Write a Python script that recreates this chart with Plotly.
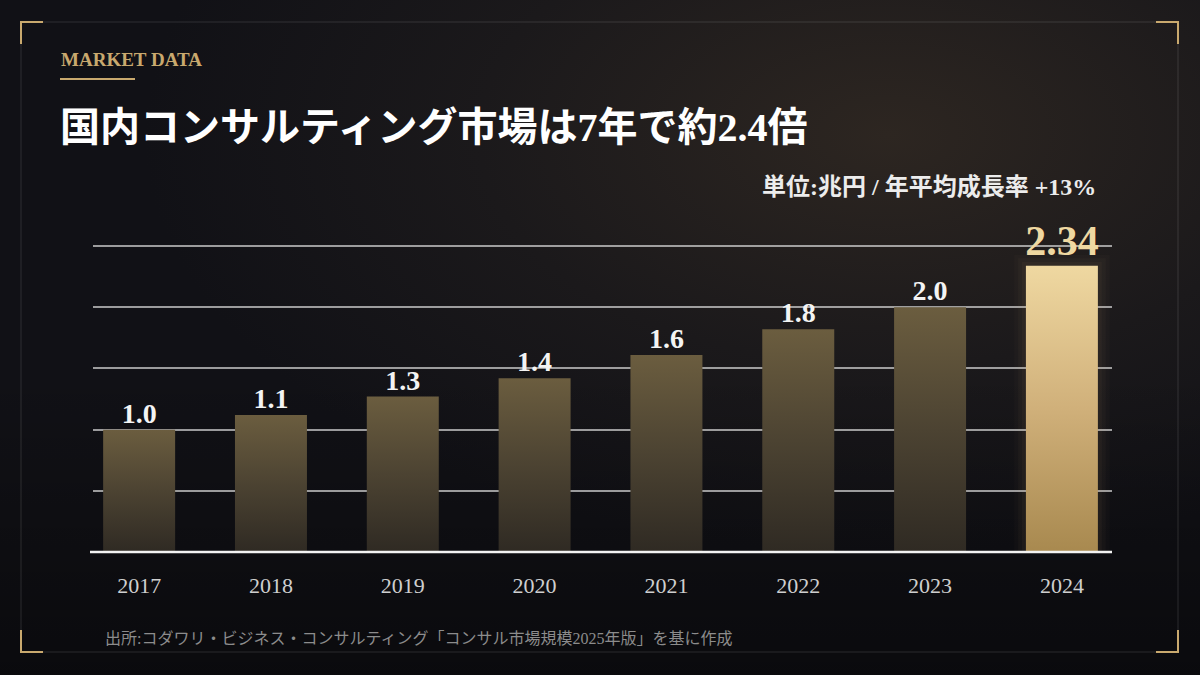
import base64
import numpy as np
import plotly.graph_objects as go

# chart data
years = ["2017", "2018", "2019", "2020", "2021", "2022", "2023", "2024"]
market_size = [1.0, 1.12, 1.27, 1.42, 1.61, 1.82, 2.0, 2.34]
value_labels = ["1.0", "1.1", "1.3", "1.4", "1.6", "1.8", "2.0", "2.34"]
highlight_year = "2024"

title_text = "国内コンサルティング市場は7年で約2.4倍"
kicker_text = "MARKET DATA"
unit_text = "単位:兆円 / 年平均成長率 +13%"
source_text = "出所:コダワリ・ビジネス・コンサルティング「コンサル市場規模2025年版」を基に作成"

W, H = 1200, 675
ML, MR, MT, MB = 93, 88, 240, 123
PW, PH = W - ML - MR, H - MT - MB

SERIF = "Liberation Serif, 'Noto Sans CJK JP', serif"
GOLD = "#c9a96e"
BAR_W = 0.546


def px_x(px):
    return (px - ML) / PW


def px_y(py):
    return (H - MB - py) / PH


bg_svg = """<svg xmlns='http://www.w3.org/2000/svg' width='1200' height='675'>
<defs>
<radialGradient id='g' cx='0.74' cy='0.2' r='0.62'>
<stop offset='0' stop-color='#2d2621'/>
<stop offset='0.55' stop-color='#1b191b'/>
<stop offset='1' stop-color='#111116'/>
</radialGradient>
<linearGradient id='v' x1='0' y1='0' x2='0' y2='1'>
<stop offset='0.55' stop-color='#000' stop-opacity='0'/>
<stop offset='1' stop-color='#000' stop-opacity='0.4'/>
</linearGradient>
</defs>
<rect width='1200' height='675' fill='url(#g)'/>
<rect width='1200' height='675' fill='url(#v)'/>
</svg>"""
bg_uri = "data:image/svg+xml;base64," + base64.b64encode(bg_svg.encode()).decode()

fig = go.Figure()

xpos = np.arange(len(years))
for i, (yr, v) in enumerate(zip(years, market_size)):
    hi = yr == highlight_year
    x0, x1 = xpos[i] - BAR_W / 2, xpos[i] + BAR_W / 2
    if hi:
        # faint glow around the highlighted bar
        for pad, a in [(0.09, 0.025), (0.06, 0.03), (0.03, 0.04)]:
            fig.add_trace(go.Scatter(
                x=[x0 - pad, x0 - pad, x1 + pad, x1 + pad, x0 - pad],
                y=[0, v + pad, v + pad, 0, 0],
                fill="toself", mode="none",
                fillcolor=f"rgba(225,190,120,{a})",
                hoverinfo="skip", showlegend=False,
            ))
        scale = [[0, "#a8894f"], [0.5, "#d0b07a"], [1, "#efd8a1"]]
    else:
        scale = [[0, "#2f2a23"], [0.5, "#4c4332"], [1, "#6b5d3f"]]
    fig.add_trace(go.Scatter(
        x=[x0, x0, x1, x1, x0],
        y=[0, v, v, 0, 0],
        fill="toself", mode="none",
        fillgradient=dict(type="vertical", colorscale=scale),
        name=yr, hovertemplate=f"{yr}: {v}<extra></extra>",
        showlegend=False,
    ))

# value labels
normal = [i for i, y in enumerate(years) if y != highlight_year]
hl = [i for i, y in enumerate(years) if y == highlight_year]
fig.add_trace(go.Scatter(
    x=[xpos[i] for i in normal], y=[market_size[i] for i in normal],
    text=[f"<b>{value_labels[i]}</b>" for i in normal],
    mode="text", textposition="top center",
    textfont=dict(family=SERIF, size=28, color="#f4f4f4"),
    hoverinfo="skip", showlegend=False, cliponaxis=False,
))
fig.add_trace(go.Scatter(
    x=[xpos[i] for i in hl], y=[market_size[i] for i in hl],
    text=[f"<b>{value_labels[i]}</b>" for i in hl],
    mode="text", textposition="top center",
    textfont=dict(family=SERIF, size=42, color="#efd8a1"),
    hoverinfo="skip", showlegend=False, cliponaxis=False,
))

shapes = []
# baseline
shapes.append(dict(type="line", xref="paper", yref="paper",
                   x0=px_x(90), x1=px_x(1112), y0=0, y1=0,
                   line=dict(color="#f2f2f2", width=2.5), layer="above"))
# frame
fx0, fx1, fy0, fy1 = 21, 1178, 22, 652
shapes.append(dict(type="rect", xref="paper", yref="paper",
                   x0=px_x(fx0), x1=px_x(fx1), y0=px_y(fy0), y1=px_y(fy1),
                   line=dict(color="rgba(255,255,255,0.13)", width=1), layer="above"))
c = 22
for cx, cy, dx, dy in [(fx0, fy0, 1, 1), (fx1, fy0, -1, 1), (fx0, fy1, 1, -1), (fx1, fy1, -1, -1)]:
    shapes.append(dict(type="path", xref="paper", yref="paper",
                       path=f"M {px_x(cx + dx * c)} {px_y(cy)} L {px_x(cx)} {px_y(cy)} L {px_x(cx)} {px_y(cy + dy * c)}",
                       line=dict(color=GOLD, width=2), layer="above"))
# kicker underline
shapes.append(dict(type="line", xref="paper", yref="paper",
                   x0=px_x(60), x1=px_x(135), y0=px_y(79), y1=px_y(79),
                   line=dict(color=GOLD, width=2), layer="above"))

annotations = [
    dict(text=f"<b>{kicker_text}</b>", x=px_x(59), y=px_y(59), xanchor="left", yanchor="middle",
         font=dict(family=SERIF, size=19, color=GOLD)),
    dict(text=f"<b>{title_text}</b>", x=px_x(58), y=px_y(128), xanchor="left", yanchor="middle",
         font=dict(family=SERIF, size=40, color="#ffffff")),
    dict(text=f"<b>{unit_text}</b>", x=px_x(1098), y=px_y(187), xanchor="right", yanchor="middle",
         font=dict(family=SERIF, size=24, color="#ececec")),
    dict(text=source_text, x=px_x(103), y=px_y(638), xanchor="left", yanchor="middle",
         font=dict(family=SERIF, size=16, color="#8c8c8c")),
]
for a in annotations:
    a.update(xref="paper", yref="paper", showarrow=False)

fig.update_layout(
    width=W, height=H,
    margin=dict(l=ML, r=MR, t=MT, b=MB),
    paper_bgcolor="#121216",
    plot_bgcolor="rgba(0,0,0,0)",
    images=[dict(source=bg_uri, xref="paper", yref="paper",
                 x=px_x(0), y=px_y(0), sizex=W / PW, sizey=H / PH,
                 xanchor="left", yanchor="top", sizing="stretch", layer="below")],
    shapes=shapes,
    annotations=annotations,
    showlegend=False,
    xaxis=dict(range=[-0.35, 7.38], tickvals=list(xpos), ticktext=years,
               showgrid=False, zeroline=False, showline=False, ticks="",
               ticklabelstandoff=18,
               tickfont=dict(family=SERIF, size=22, color="#cfcfcf"),
               fixedrange=True),
    yaxis=dict(range=[0, 2.55], tickvals=[0.5, 1.0, 1.5, 2.0, 2.5], showgrid=True,
               gridcolor="rgba(215,215,215,0.7)", gridwidth=1.5,
               zeroline=False, showticklabels=False, showline=False,
               fixedrange=True),
)

fig.write_html("out.html", config={"displayModeBar": False},
               post_script="document.body.style.margin='0';")
